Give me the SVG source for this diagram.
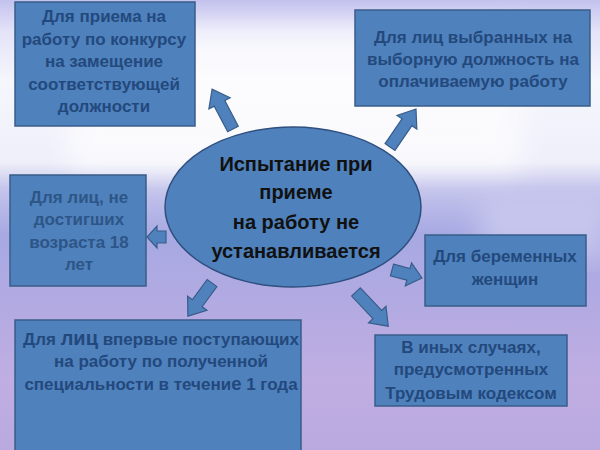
<svg xmlns="http://www.w3.org/2000/svg" width="600" height="450" viewBox="0 0 600 450">
  <defs>
    <linearGradient id="bg" x1="0" y1="0" x2="0" y2="1">
      <stop offset="0" stop-color="#c3c2ee"/>
      <stop offset="0.07" stop-color="#e4e3f8"/>
      <stop offset="0.18" stop-color="#f6f6fd"/>
      <stop offset="0.36" stop-color="#efeffa"/>
      <stop offset="0.42" stop-color="#c4c4ec"/>
      <stop offset="0.52" stop-color="#a7a9e2"/>
      <stop offset="0.68" stop-color="#b3aae2"/>
      <stop offset="0.85" stop-color="#c0aee2"/>
      <stop offset="1" stop-color="#b9a9df"/>
    </linearGradient>
    <filter id="soft" x="-20%" y="-20%" width="140%" height="140%">
      <feGaussianBlur stdDeviation="14"/>
    </filter>
    <style>
      .box { fill: #4f81bd; stroke: #385d8a; stroke-width: 1.5; }
      .arrow { fill: #4f81bd; stroke: #385d8a; stroke-width: 1.2; stroke-linejoin: miter; }
      .t { font-family: "Liberation Sans", Arial, sans-serif; font-weight: bold; font-size: 17px; fill: #23497c; text-anchor: middle; }
      .t2 { fill: #2d5586; }
      .c { font-family: "Liberation Sans", Arial, sans-serif; font-weight: bold; font-size: 20px; fill: #111111; text-anchor: middle; }
    </style>
  </defs>

  <!-- background -->
  <rect x="0" y="0" width="600" height="450" fill="url(#bg)"/>
  <rect x="70" y="30" width="450" height="140" fill="#ffffff" opacity="0.7" filter="url(#soft)"/>
  <rect x="480" y="200" width="130" height="60" fill="#d8d6f4" opacity="0.6" filter="url(#soft)"/>

  <!-- connectors -->
  <g id="connectors">
    <polygon class="arrow" transform="translate(233,129) rotate(-117.7)" points="0,-6 29,-6 29,-12 45,0 29,12 29,6 0,6"/>
    <polygon class="arrow" transform="translate(390,147) rotate(-55.6)" points="0,-6 30,-6 30,-12 46,0 30,12 30,6 0,6"/>
    <polygon class="arrow" transform="translate(166,237) rotate(180)" points="0,-6 9,-6 9,-11 19,0 9,11 9,6 0,6"/>
    <polygon class="arrow" transform="translate(212,283) rotate(126)" points="0,-6 25,-6 25,-12 41,0 25,12 25,6 0,6"/>
    <polygon class="arrow" transform="translate(392,270) rotate(15)" points="0,-6 17,-6 17,-12 31,0 17,12 17,6 0,6"/>
    <polygon class="arrow" transform="translate(356,292) rotate(46.7)" points="0,-6 31,-6 31,-12 47,0 31,12 31,6 0,6"/>
  </g>

  <!-- center -->
  <g id="center">
    <ellipse cx="293" cy="207" rx="128" ry="80" fill="#4f81bd" stroke="#2f4f7f" stroke-width="1.5"/>
    <text class="c" x="296" y="171">Испытание при</text>
    <text class="c" x="296" y="199">приеме</text>
    <text class="c" x="296" y="229">на работу не</text>
    <text class="c" x="296" y="258">устанавливается</text>
  </g>

  <g id="node-konkurs">
    <rect class="box" x="15" y="2" width="180" height="124"/>
    <text class="t" x="104" y="22">Для приема на</text>
    <text class="t" x="104" y="45">работу по конкурсу</text>
    <text class="t" x="104" y="67">на замещение</text>
    <text class="t" x="104" y="90">соответствующей</text>
    <text class="t" x="104" y="112">должности</text>
  </g>

  <g id="node-vybornye">
    <rect class="box" x="355" y="10" width="235" height="96"/>
    <text class="t" x="473" y="43">Для лиц выбранных на</text>
    <text class="t" x="473" y="65">выборную должность на</text>
    <text class="t" x="473" y="87">оплачиваемую работу</text>
  </g>

  <g id="node-18">
    <rect class="box" x="10" y="175" width="136" height="111"/>
    <text class="t t2" x="79" y="203">Для лиц, не</text>
    <text class="t t2" x="79" y="225">достигших</text>
    <text class="t t2" x="79" y="248">возраста 18</text>
    <text class="t t2" x="79" y="270">лет</text>
  </g>

  <g id="node-beremennye">
    <rect class="box" x="425" y="235" width="161" height="71"/>
    <text class="t" x="505" y="262">Для беременных</text>
    <text class="t" x="505" y="285">женщин</text>
  </g>

  <g id="node-vpervye">
    <rect class="box" x="15" y="320" width="286" height="140"/>
    <text class="t" x="161" y="345">Для <tspan font-size="20">лиц</tspan> впервые поступающих</text>
    <text class="t" x="161" y="367">на работу по полученной</text>
    <text class="t" x="161" y="390">специальности в течени<tspan font-size="18.5">е</tspan> 1 года</text>
  </g>

  <g id="node-inye">
    <rect class="box" x="375" y="335" width="192" height="71"/>
    <text class="t" x="471" y="353">В иных случаях,</text>
    <text class="t" x="471" y="375">предусмотренных</text>
    <text class="t" x="471" y="399">Трудовым кодексом</text>
  </g>
</svg>
